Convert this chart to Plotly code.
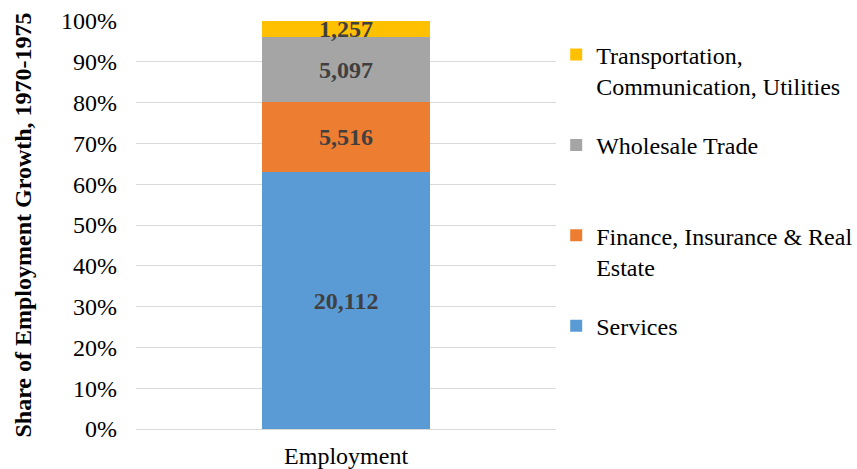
import plotly.graph_objects as go

categories = ["Employment"]
series_names = ["Services", "Finance, Insurance & Real<br>Estate", "Wholesale Trade<br> ", "Transportation,<br>Communication, Utilities"]
services = [20112]
fire = [5516]
wholesale = [5097]
tcu = [1257]
colors = ["#5B9BD5", "#ED7D31", "#A5A5A5", "#FFC000"]
y_ticks = [0, 10, 20, 30, 40, 50, 60, 70, 80, 90, 100]
y_tick_labels = [f"{v}%" for v in y_ticks]

SERIF = "Liberation Serif"

fig = go.Figure()
for i, (name, vals) in enumerate(zip(series_names, [services, fire, wholesale, tcu])):
    fig.add_trace(go.Bar(
        x=categories, y=vals, name=name,
        marker=dict(color=colors[i], line=dict(width=0)),
        text=[f"<b>{v:,}</b>" for v in vals],
        textposition="inside", insidetextanchor="middle",
        constraintext="none", textangle=0,
        textfont=dict(family=SERIF, size=24, color="#404040"),
        legendgroup=str(i), legendrank=4 - i,
        hoverinfo="skip",
    ))

fig.update_layout(
    template="none",
    barmode="stack", barnorm="percent", bargap=0.6,
    width=857, height=469,
    margin=dict(l=136, r=298, t=21, b=40),
    paper_bgcolor="white", plot_bgcolor="white",
    font=dict(family=SERIF, size=24, color="#000000"),
    legend=dict(xref="container", x=0.649, xanchor="left", y=0.972, yanchor="top",
                traceorder="grouped", tracegroupgap=25, valign="top",
                font=dict(family=SERIF, size=24, color="#000000")),
    yaxis=dict(range=[0, 100], tickvals=y_ticks, ticktext=y_tick_labels,
               showgrid=True, gridcolor="#D9D9D9", gridwidth=1,
               zeroline=True, zerolinecolor="#D9D9D9", zerolinewidth=1,
               showline=False, ticks="", automargin=False, ticklabelstandoff=18,
               tickfont=dict(family=SERIF, size=24),
               title=dict(text="<b>Share of Employment Growth, 1970-1975</b>",
                          font=dict(family=SERIF, size=24), standoff=22)),
    xaxis=dict(showline=False, ticks="", automargin=False, ticklabelstandoff=10,
               tickfont=dict(family=SERIF, size=24)),
)

fig.write_html("out.html")
